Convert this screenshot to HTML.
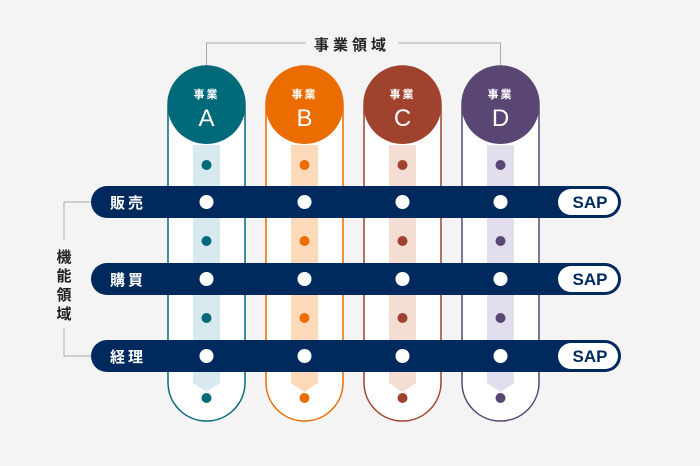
<!DOCTYPE html>
<html><head><meta charset="utf-8"><style>
html,body{margin:0;padding:0;background:#f4f4f4;}
svg{display:block;font-family:"Liberation Sans","Noto Sans CJK JP",sans-serif;}
</style></head><body>
<svg width="700" height="466" viewBox="0 0 700 466" xmlns="http://www.w3.org/2000/svg">
<rect width="700" height="466" fill="#f4f4f4"/>
<polyline points="206.5,66 206.5,43 306,43" fill="none" stroke="#aaa" stroke-width="1"/>
<polyline points="398,43 500.5,43 500.5,66" fill="none" stroke="#aaa" stroke-width="1"/>
<text x="352" y="50" font-size="15" font-weight="bold" text-anchor="middle" fill="#222" letter-spacing="4">事業領域</text>
<polyline points="91,202 64,202 64,240" fill="none" stroke="#aaa" stroke-width="1"/>
<polyline points="64,328 64,356 91,356" fill="none" stroke="#aaa" stroke-width="1"/>
<g font-size="15" font-weight="bold" fill="#222" text-anchor="middle">
<text x="64" y="262">機</text><text x="64" y="281">能</text><text x="64" y="300">領</text><text x="64" y="319">域</text>
</g>
<g>
<rect x="168" y="66" width="77" height="355" rx="38.5" fill="#fff" stroke="#006a7a" stroke-width="1.5"/>
<polygon points="193,145 220,145 220,383 206.5,392 193,383" fill="#d8e9f0"/>
<circle cx="206.5" cy="105" r="39" fill="#006a7a"/>
<text x="206.5" y="98" font-size="11" font-weight="bold" fill="#fff" text-anchor="middle" letter-spacing="2">事業</text>
<text x="206.5" y="126" font-size="24" fill="#fff" text-anchor="middle">A</text>
<g fill="#006a7a"><circle cx="206.5" cy="165" r="5"/><circle cx="206.5" cy="241" r="5"/><circle cx="206.5" cy="318" r="5"/><circle cx="206.5" cy="398" r="5"/></g>
</g>
<g>
<rect x="266" y="66" width="77" height="355" rx="38.5" fill="#fff" stroke="#eb6c00" stroke-width="1.5"/>
<polygon points="291,145 318,145 318,383 304.5,392 291,383" fill="#fcdab9"/>
<circle cx="304.5" cy="105" r="39" fill="#eb6c00"/>
<text x="304.5" y="98" font-size="11" font-weight="bold" fill="#fff" text-anchor="middle" letter-spacing="2">事業</text>
<text x="304.5" y="126" font-size="24" fill="#fff" text-anchor="middle">B</text>
<g fill="#eb6c00"><circle cx="304.5" cy="165" r="5"/><circle cx="304.5" cy="241" r="5"/><circle cx="304.5" cy="318" r="5"/><circle cx="304.5" cy="398" r="5"/></g>
</g>
<g>
<rect x="364" y="66" width="77" height="355" rx="38.5" fill="#fff" stroke="#a0432e" stroke-width="1.5"/>
<polygon points="389,145 416,145 416,383 402.5,392 389,383" fill="#f4ddd3"/>
<circle cx="402.5" cy="105" r="39" fill="#a0432e"/>
<text x="402.5" y="98" font-size="11" font-weight="bold" fill="#fff" text-anchor="middle" letter-spacing="2">事業</text>
<text x="402.5" y="126" font-size="24" fill="#fff" text-anchor="middle">C</text>
<g fill="#a0432e"><circle cx="402.5" cy="165" r="5"/><circle cx="402.5" cy="241" r="5"/><circle cx="402.5" cy="318" r="5"/><circle cx="402.5" cy="398" r="5"/></g>
</g>
<g>
<rect x="462" y="66" width="77" height="355" rx="38.5" fill="#fff" stroke="#5a4672" stroke-width="1.5"/>
<polygon points="487,145 514,145 514,383 500.5,392 487,383" fill="#e3deed"/>
<circle cx="500.5" cy="105" r="39" fill="#5a4672"/>
<text x="500.5" y="98" font-size="11" font-weight="bold" fill="#fff" text-anchor="middle" letter-spacing="2">事業</text>
<text x="500.5" y="126" font-size="24" fill="#fff" text-anchor="middle">D</text>
<g fill="#5a4672"><circle cx="500.5" cy="165" r="5"/><circle cx="500.5" cy="241" r="5"/><circle cx="500.5" cy="318" r="5"/><circle cx="500.5" cy="398" r="5"/></g>
</g>
<g>
<rect x="91" y="186" width="530" height="32" rx="16" fill="#002a5e"/>
<rect x="91" y="263" width="530" height="32" rx="16" fill="#002a5e"/>
<rect x="91" y="340" width="530" height="32" rx="16" fill="#002a5e"/>
<g fill="#fff">
<rect x="558" y="189" width="60" height="26" rx="13"/>
<rect x="558" y="266" width="60" height="26" rx="13"/>
<rect x="558" y="343" width="60" height="26" rx="13"/>
</g>
<g font-size="17" font-weight="bold" fill="#002a5e" text-anchor="middle">
<text x="590" y="208">SAP</text><text x="590" y="285">SAP</text><text x="590" y="362">SAP</text>
</g>
<g font-size="15" font-weight="bold" fill="#fff" letter-spacing="3">
<text x="110" y="208">販売</text><text x="110" y="285">購買</text><text x="110" y="362">経理</text>
</g>
<g fill="#fff">
<circle cx="206.5" cy="202" r="7"/><circle cx="304.5" cy="202" r="7"/><circle cx="402.5" cy="202" r="7"/><circle cx="500.5" cy="202" r="7"/>
<circle cx="206.5" cy="279" r="7"/><circle cx="304.5" cy="279" r="7"/><circle cx="402.5" cy="279" r="7"/><circle cx="500.5" cy="279" r="7"/>
<circle cx="206.5" cy="356" r="7"/><circle cx="304.5" cy="356" r="7"/><circle cx="402.5" cy="356" r="7"/><circle cx="500.5" cy="356" r="7"/>
</g>
</g>
</svg>
</body></html>
